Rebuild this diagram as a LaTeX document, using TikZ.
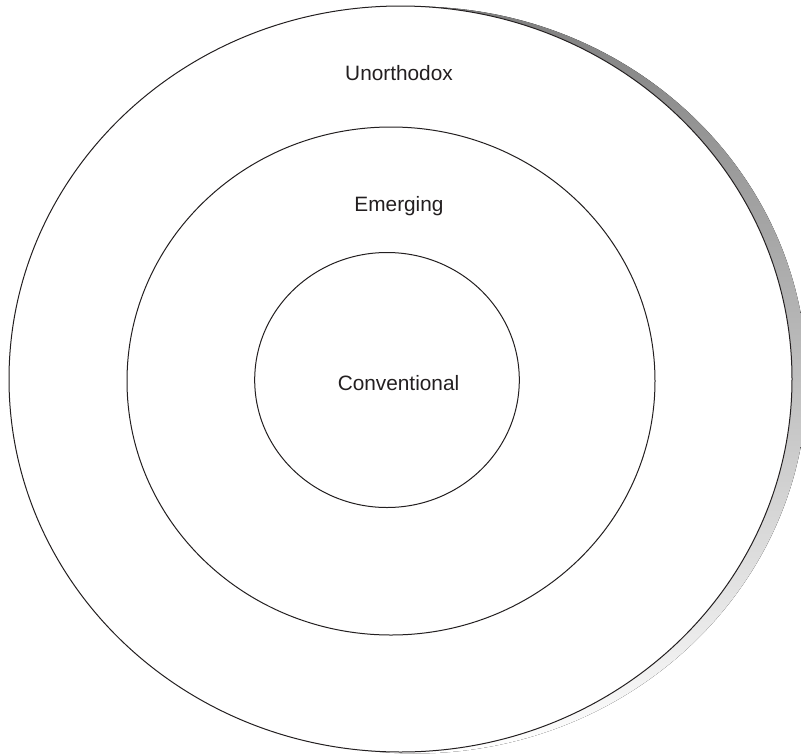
\documentclass[tikz,border=0pt]{standalone}
\usepackage{fontspec}
\setmainfont{Liberation Sans}
\definecolor{ink}{HTML}{231F20}
\definecolor{shade}{HTML}{A7A9AC}
\begin{document}
\begin{tikzpicture}[x=1pt,y=-1pt,
  ring/.style={draw=ink,line width=1pt},
  lbl/.style={anchor=base,inner sep=0pt,text=ink,font=\fontsize{20.8pt}{24pt}\selectfont}]
\useasboundingbox (0,0) rectangle (801,753);
\clip (0,0) rectangle (801,753);
\fill[shade] (415,380) ellipse [x radius=392, y radius=373.5];
\filldraw[ring,fill=white] (400.5,379) ellipse [x radius=391.5, y radius=373];
\draw[ring] (391,381) ellipse [x radius=264, y radius=254];
\draw[ring] (387,380) ellipse [x radius=132.3, y radius=127.5];
\node[lbl] (unorthodox) at (399,80) {Unorthodox};
\node[lbl] (emerging) at (399,211.5) {Emerging};
\node[lbl] (conventional) at (398.5,390) {Conventional};
\end{tikzpicture}
\end{document}
